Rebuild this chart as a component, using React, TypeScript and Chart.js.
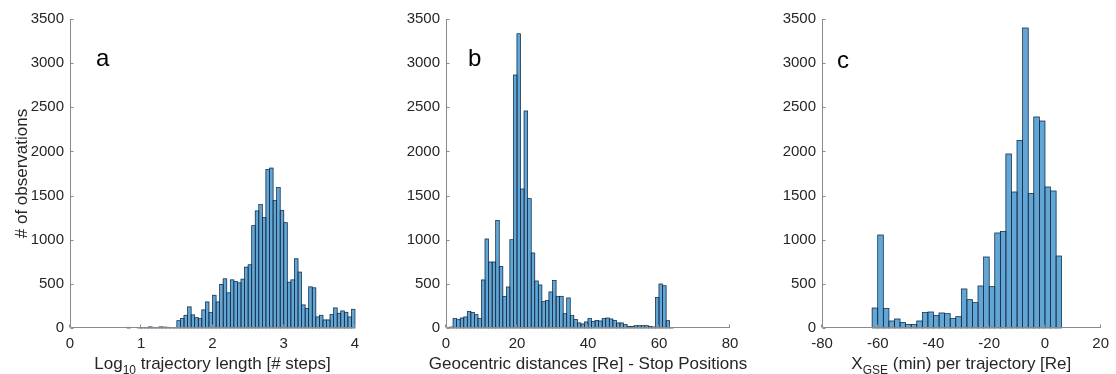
import React, { useEffect, useRef } from 'react';
import { Chart, registerables } from 'chart.js';
Chart.register(...registerables);

// ---------- data ----------
const aBinStart = 0.8;
const aBinWidth = 0.05;
const aCounts = [
  8, 0, 0, 3, 6, 4, 12, 8, 5, 12, 10, 8, 3, 4,
  83, 106, 144, 239, 148, 117, 106, 205, 295, 174,
  371, 295, 492, 557, 398, 545, 527, 511, 553, 689,
  716, 1159, 1326, 1398, 1250, 1795, 1811, 1443, 1591, 1330,
  1193, 519, 545, 784, 633, 261, 223, 466, 455, 125,
  144, 91, 91, 152, 227, 167, 193, 178, 125, 212,
];

const bBinStart = 1;
const bBinWidth = 1;
const bCounts = [
  10, 106, 94, 113, 125, 189, 177, 151, 106, 544,
  1008, 747, 747, 1219, 698, 359, 464, 1000, 2865, 3333,
  1574, 2458, 1465, 849, 532, 487, 298, 310, 408, 540,
  359, 359, 162, 340, 140, 98, 57, 45, 68, 106,
  75, 87, 79, 106, 113, 102, 87, 57, 57, 38,
  19, 19, 26, 26, 26, 26, 19, 11, 347, 498,
  479, 83, 4,
];

const cBinStart = -62;
const cBinWidth = 2;
const cCounts = [
  226, 1053, 223, 79, 102, 64, 38, 38, 79, 174,
  181, 140, 170, 162, 106, 128, 442, 321, 287, 476,
  804, 468, 1076, 1095, 1971, 1540, 2125, 3398, 1525, 2390,
  2344, 1597, 1552, 815,
];

const yMin = 0;
const yMax = 3500;
const yStep = 500;
const aXRange = [0, 4, 1];
const bXRange = [0, 80, 20];
const cXRange = [-80, 20, 20];

const aTitle = [{ t: 'Log' }, { t: '10', sub: true }, { t: ' trajectory length [# steps]' }];
const bTitle = [{ t: 'Geocentric distances [Re] - Stop Positions' }];
const cTitle = [{ t: 'X' }, { t: 'GSE', sub: true }, { t: ' (min) per trajectory [Re]' }];
const yTitleText = '# of observations';

// ---------- styling ----------
const FONT = '"Liberation Sans", Arial, Helvetica, sans-serif';
const TEXT = '#262626';
const AXIS = '#8a8a8a';
const BAR_FILL = '#62a6d6';
const BAR_EDGE = 'rgba(20,38,60,0.95)';

type Seg = { t: string; sub?: boolean };
type Panel = {
  left: number;
  width: number;
  yW: number;
  padRight: number;
  range: number[];
  start: number;
  binW: number;
  counts: number[];
  title: Seg[];
  letter: string;
  letterX: number;
  letterY: number;
  yTitle?: string;
};

const panels: Panel[] = [
  { left: 0, width: 370, yW: 70, padRight: 15, range: aXRange, start: aBinStart, binW: aBinWidth, counts: aCounts, title: aTitle, letter: 'a', letterX: 96, letterY: 66, yTitle: yTitleText },
  { left: 380, width: 370, yW: 66, padRight: 20, range: bXRange, start: bBinStart, binW: bBinWidth, counts: bCounts, title: bTitle, letter: 'b', letterX: 468, letterY: 66 },
  { left: 750, width: 366, yW: 72, padRight: 9, range: cXRange, start: cBinStart, binW: cBinWidth, counts: cCounts, title: cTitle, letter: 'c', letterX: 837, letterY: 68 },
];

const H = 374;

function makeDecor(p: Panel) {
  return {
    id: 'decor_' + p.letter,
    afterDatasetsDraw(chart: any) {
      const ctx = chart.ctx as CanvasRenderingContext2D;
      const meta = chart.getDatasetMeta(0);
      ctx.save();
      ctx.strokeStyle = BAR_EDGE;
      ctx.lineWidth = 0.7;
      meta.data.forEach((el: any, i: number) => {
        if (!p.counts[i]) return;
        const { x, y, base, width } = el.getProps(['x', 'y', 'base', 'width'], true);
        const l = x - width / 2;
        ctx.strokeRect(l, y, width, base - y);
      });
      ctx.restore();
    },
    afterDraw(chart: any) {
      const ctx = chart.ctx as CanvasRenderingContext2D;
      const area = chart.chartArea;
      const xs = chart.scales.x;
      const ys = chart.scales.y;
      ctx.save();
      // axis lines
      ctx.strokeStyle = AXIS;
      ctx.lineWidth = 1;
      ctx.beginPath();
      const L = Math.round(area.left) + 0.5;
      const B = Math.round(area.bottom) - 0.5;
      ctx.moveTo(L, Math.round(area.top));
      ctx.lineTo(L, B);
      ctx.lineTo(Math.round(area.right), B);
      ctx.stroke();
      // inward ticks
      ctx.beginPath();
      ys.ticks.forEach((t: any) => {
        const y = Math.round(ys.getPixelForValue(t.value)) + 0.5;
        ctx.moveTo(L, y);
        ctx.lineTo(L + 3, y);
      });
      xs.ticks.forEach((t: any) => {
        const x = Math.round(xs.getPixelForValue(t.value)) - 0.5;
        ctx.moveTo(x, B);
        ctx.lineTo(x, B - 3);
      });
      ctx.stroke();

      ctx.fillStyle = TEXT;
      // x title with subscripts
      const mainFont = '17px ' + FONT;
      const subFont = '12px ' + FONT;
      let total = 0;
      p.title.forEach((s) => {
        ctx.font = s.sub ? subFont : mainFont;
        total += ctx.measureText(s.t).width;
      });
      let x = (area.left + area.right) / 2 - total / 2;
      const baseY = 369;
      ctx.textBaseline = 'alphabetic';
      ctx.textAlign = 'left';
      p.title.forEach((s) => {
        ctx.font = s.sub ? subFont : mainFont;
        ctx.fillText(s.t, x, s.sub ? baseY + 5 : baseY);
        x += ctx.measureText(s.t).width;
      });
      // y title
      if (p.yTitle) {
        ctx.save();
        ctx.font = mainFont;
        ctx.translate(27, (area.top + area.bottom) / 2);
        ctx.rotate(-Math.PI / 2);
        ctx.textAlign = 'center';
        ctx.fillText(p.yTitle, 0, 0);
        ctx.restore();
      }
      // panel letter
      ctx.font = '24px ' + FONT;
      ctx.fillStyle = '#000';
      ctx.textAlign = 'left';
      ctx.fillText(p.letter, p.letterX - p.left, p.letterY);
      ctx.restore();
    },
  };
}

function PanelChart({ p }: { p: Panel }) {
  const ref = useRef<HTMLCanvasElement | null>(null);
  useEffect(() => {
    if (!ref.current) return;
    const data = p.counts.map((c, i) => ({ x: p.start + p.binW * (i + 0.5), y: c }));
    const chart = new Chart(ref.current, {
      type: 'bar',
      data: {
        datasets: [
          {
            data: data as any,
            backgroundColor: BAR_FILL,
            borderWidth: 0,
            barPercentage: 1,
            categoryPercentage: 1,
          },
        ],
      },
      options: {
        animation: false,
        responsive: false,
        devicePixelRatio: 1,
        layout: { padding: { left: 0, right: p.padRight, top: 19, bottom: 0 } },
        plugins: { legend: { display: false }, tooltip: { enabled: false } },
        scales: {
          x: {
            type: 'linear',
            offset: false,
            min: p.range[0],
            max: p.range[1],
            grid: { display: false, drawTicks: false, offset: false },
            border: { display: false },
            ticks: {
              stepSize: p.range[2],
              padding: 7,
              maxRotation: 0,
              autoSkip: false,
              color: TEXT,
              font: { family: FONT, size: 15 },
              callback: (v: any) => String(v),
            },
            afterFit: (s: any) => {
              s.height = 46;
            },
          },
          y: {
            type: 'linear',
            min: yMin,
            max: yMax,
            grid: { display: false, drawTicks: false },
            border: { display: false },
            ticks: {
              stepSize: yStep,
              padding: 6,
              color: TEXT,
              font: { family: FONT, size: 15 },
              callback: (v: any) => String(v),
            },
            afterFit: (s: any) => {
              s.width = p.yW;
            },
          },
        },
      } as any,
      plugins: [makeDecor(p)],
    });
    return () => chart.destroy();
  }, [p]);
  return (
    <canvas
      ref={ref}
      width={p.width}
      height={H}
      style={{ position: 'absolute', left: p.left, top: 0, width: p.width, height: H }}
    />
  );
}

export default function App() {
  return (
    <div style={{ position: 'absolute', left: 0, top: 0, width: 1116, height: H, background: '#fff', overflow: 'hidden' }}>
      {panels.map((p) => (
        <PanelChart key={p.letter} p={p} />
      ))}
    </div>
  );
}
